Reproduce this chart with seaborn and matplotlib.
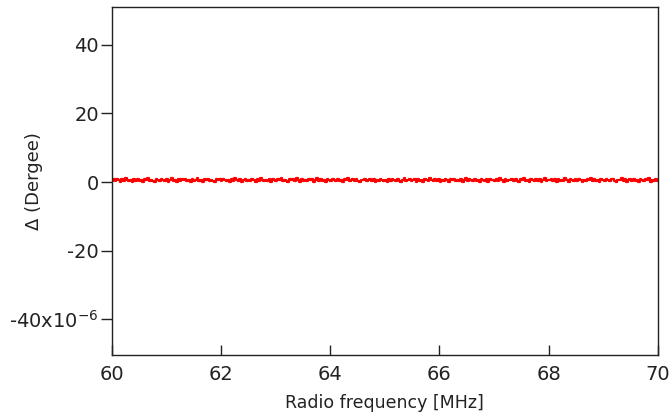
import numpy as np
import pandas as pd
import matplotlib
matplotlib.use("Agg")
import matplotlib.pyplot as plt
import seaborn as sns

# phase difference, in units of 1e-6 degree
delta_ue = [
    0.4, 0.9, 0.2, 1.0, 0.5, 0.1, 0.8, 0.3, 1.1, 0.6, 0.2, 0.7, 0.0, 0.9, 0.4, 1.0,
    0.3, 0.6, 0.1, 0.8, 0.5, 1.1, 0.2, 0.7, 0.4, 0.0, 0.9, 0.6, 0.3, 1.0, 0.5, 0.2,
    0.8, 0.1, 0.7, 1.1, 0.4, 0.6, 0.0, 0.9, 0.3, 0.8, 0.5, 1.0, 0.2, 0.6, 0.1, 0.9,
    0.4, 0.7, 1.1, 0.3, 0.5, 0.0, 0.8, 0.6, 1.0, 0.2, 0.7, 0.4, 0.1, 0.9, 0.5, 0.8,
    0.3, 1.0, 0.6, 0.2, 0.7, 0.0, 0.9, 0.4, 1.1, 0.5, 0.3, 0.8, 0.1, 0.6, 1.0, 0.4,
    0.7, 0.2, 0.9, 0.5, 0.0, 0.8, 0.3, 1.1, 0.6, 0.2, 0.7, 0.4, 1.0, 0.1, 0.8, 0.5,
    0.3, 0.9, 0.6, 1.2, 0.2, 0.7, 0.4, 0.0, 1.0, 0.5, 0.8, 0.3, 1.1, 0.6, 0.1, 0.9,
    0.4, 0.7, 0.2, 1.0, 0.5, 0.8, 0.0, 0.6, 1.1, 0.3, 0.9, 0.4, 0.7, 0.1, 1.0, 0.5,
    0.2, 0.8, 0.6, 0.3, 1.0, 0.4, 0.7, 0.0, 0.9, 0.5, 1.1, 0.2, 0.6, 0.8, 0.3, 1.0,
    0.4, 0.1, 0.7, 0.5, 0.9, 0.2, 0.6, 1.0, 0.3, 0.8, 0.0, 0.7, 0.4, 0.9, 0.5, 0.2,
    0.6, 0.1, 0.9, 0.3, 1.0, 0.5, 0.2, 0.8, 0.4, 0.0, 0.7, 1.1, 0.3, 0.6, 0.9, 0.2,
    0.5, 1.0, 0.1, 0.8, 0.4, 0.7, 0.0, 0.9, 0.6, 0.3, 1.1, 0.5, 0.2, 0.8, 0.4, 1.0,
    0.1, 0.7, 0.3, 0.9, 0.6, 0.0, 0.8, 0.5, 1.0, 0.2, 0.7, 0.4, 0.9, 0.1, 0.6, 1.1,
    0.3, 0.8, 0.5, 0.2, 1.0, 0.4, 0.7, 0.0, 0.9, 0.6, 0.3, 0.8, 0.1, 1.0, 0.5, 0.7,
    0.2, 0.9, 0.4, 1.1, 0.6, 0.0, 0.8, 0.3, 0.7, 0.5, 1.0, 0.2, 0.9, 0.4, 0.1, 0.8,
    0.6, 1.2, 0.3, 0.7, 0.0, 0.9, 0.5, 0.2, 1.0, 0.4, 0.8, 0.1, 0.6, 1.1, 0.3, 0.7,
    0.5, 0.9, 0.2, 0.8, 0.0, 1.0, 0.4, 0.6, 0.3, 1.1, 0.7, 0.1, 0.9, 0.5, 0.2, 0.8,
    0.4, 1.0, 0.6, 0.0, 0.7, 0.3, 0.9, 0.5, 1.1, 0.2, 0.8, 0.4, 0.6, 0.1, 1.0, 0.7,
    0.3, 0.9, 0.5, 0.2, 0.8, 1.0, 0.4, 0.0, 0.7, 0.6, 1.1, 0.3, 0.9, 0.1, 0.5, 0.8,
    0.2, 1.0, 0.4, 0.7, 0.0, 0.9, 0.6, 0.3, 0.8, 0.5, 1.1, 0.1, 0.7, 0.4, 1.0, 0.2,
]
freq_start, freq_stop = 60, 70
x_ticks = [60, 62, 64, 66, 68, 70]
y_ticks = [40, 20, 0, -20, -40]
y_tick_labels = ["40", "20", "0", "-20", "-40x10$^{\\mathregular{-6}}$"]

df = pd.DataFrame({
    "freq": np.linspace(freq_start, freq_stop, len(delta_ue)),
    "delta": np.array(delta_ue) * 1e-6,
})

sns.set_style("ticks")
plt.rcParams['font.family'] = ['DejaVu Sans']
plt.rcParams['axes.unicode_minus'] = False
plt.rcParams['mathtext.default'] = 'regular'

fig = plt.figure(figsize=(6.72, 4.18), dpi=100)
ax = fig.add_axes([0.1667, 0.151, 0.812, 0.832])

sns.lineplot(data=df, x="freq", y="delta", color="#ff0000", linewidth=1.6,
             drawstyle="steps-mid", ax=ax)

ax.set_xlim(60, 70)
ax.set_ylim(-50.4e-6, 51e-6)
ax.set_xticks(x_ticks)
ax.set_xticklabels([str(t) for t in x_ticks])
ax.set_yticks([t * 1e-6 for t in y_ticks])
ax.set_yticklabels(y_tick_labels)

ax.tick_params(axis="x", direction="in", length=7, width=1, labelsize=14, pad=7.5,
               colors="#222222", top=False)
ax.tick_params(axis="y", direction="out", length=8, width=1, labelsize=14, pad=1.5,
               colors="#222222", right=False)
for s in ax.spines.values():
    s.set_color("#222222")
    s.set_linewidth(1)

ax.set_xlabel("Radio frequency [MHz]", fontsize=12.5, color="#222222", labelpad=7)
ax.set_ylabel("Δ (Dergee)", fontsize=13, color="#222222")
ax.yaxis.set_label_coords(-0.126, 0.5)

fig.savefig("out.png", dpi=100)
